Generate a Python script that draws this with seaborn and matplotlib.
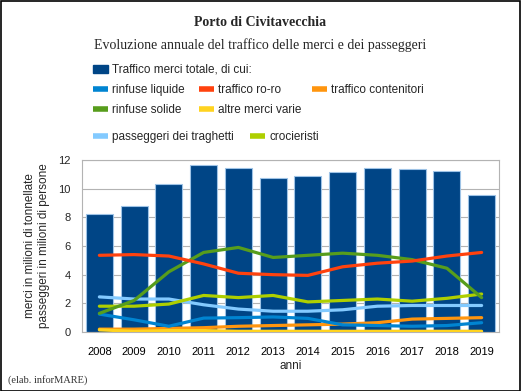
import numpy as np
import pandas as pd
import matplotlib.pyplot as plt
import matplotlib.patches as mpatches
from matplotlib.lines import Line2D
import seaborn as sns

anni = ["2008", "2009", "2010", "2011", "2012", "2013", "2014", "2015", "2016", "2017", "2018", "2019"]

totale = [8.23, 8.8, 10.3, 11.65, 11.45, 10.75, 10.9, 11.15, 11.45, 11.4, 11.2, 9.55]

rinfuse_liquide = [1.25, 0.85, 0.4, 0.97, 1.0, 1.05, 0.95, 0.5, 0.45, 0.4, 0.45, 0.65]
ro_ro = [5.35, 5.4, 5.3, 4.75, 4.1, 4.0, 3.95, 4.55, 4.8, 4.95, 5.3, 5.55]
contenitori = [0.2, 0.2, 0.25, 0.3, 0.4, 0.45, 0.5, 0.55, 0.65, 0.9, 0.95, 1.0]
rinfuse_solide = [1.3, 2.2, 4.2, 5.55, 5.9, 5.2, 5.35, 5.5, 5.35, 5.05, 4.45, 2.4]
altre_merci = [0.15, 0.05, 0.1, 0.1, 0.05, 0.05, 0.05, 0.05, 0.05, 0.05, 0.05, 0.05]
traghetti = [2.45, 2.3, 2.3, 1.9, 1.6, 1.45, 1.45, 1.55, 1.8, 1.85, 1.85, 1.85]
crocieristi = [1.8, 1.8, 1.95, 2.55, 2.4, 2.55, 2.1, 2.2, 2.3, 2.15, 2.35, 2.65]

serie = {
    "rinfuse liquide": rinfuse_liquide,
    "traffico ro-ro": ro_ro,
    "traffico contenitori": contenitori,
    "rinfuse solide": rinfuse_solide,
    "altre merci varie": altre_merci,
    "passeggeri dei traghetti": traghetti,
    "crocieristi": crocieristi,
}
colori = {
    "rinfuse liquide": "#0084d1",
    "traffico ro-ro": "#ff420e",
    "traffico contenitori": "#ff950e",
    "rinfuse solide": "#579d1c",
    "altre merci varie": "#ffd320",
    "passeggeri dei traghetti": "#83caff",
    "crocieristi": "#aecf00",
}
# draw order (bottom to top)
ordine = ["traffico contenitori", "altre merci varie", "rinfuse liquide", "passeggeri dei traghetti",
          "crocieristi", "rinfuse solide", "traffico ro-ro"]

sns.set_style("white")
plt.rcParams["font.family"] = ["Liberation Sans", "DejaVu Sans"]

fig = plt.figure(figsize=(5.21, 3.91), dpi=100)
ax = fig.add_axes([82 / 521, 59 / 391, 417 / 521, 172 / 391])

df_bar = pd.DataFrame({"anno": anni, "totale": totale})
sns.barplot(data=df_bar, x="anno", y="totale", color="#004586", width=0.77,
            edgecolor="#9ec3e6", linewidth=0.8, saturation=1, ax=ax, zorder=2)

df_lin = pd.DataFrame({
    "pos": np.tile(np.arange(len(anni)), len(ordine)),
    "serie": np.repeat(ordine, len(anni)),
    "valore": np.concatenate([serie[s] for s in ordine]),
})
sns.lineplot(data=df_lin, x="pos", y="valore", hue="serie", hue_order=ordine,
             palette=colori, linewidth=2.3, legend=False, ax=ax, zorder=3)

ax.set_xlim(-0.5, len(anni) - 0.5)
ax.set_ylim(0, 12)
ax.set_yticks(range(0, 13, 2))
ax.set_xticks(range(len(anni)))
ax.set_xticklabels(anni)
ax.set_xticks(np.arange(-0.5, len(anni), 1), minor=True)
ax.tick_params(axis="x", which="major", length=0, pad=11, labelsize=8, colors="black")
ax.tick_params(axis="x", which="minor", length=6, width=0.8, color="#b3b3b3", direction="out")
ax.tick_params(axis="y", length=5, width=0.8, color="#b3b3b3", labelsize=8, pad=3)
ax.grid(axis="y", color="#b3b3b3", linewidth=0.8, zorder=0)
ax.set_axisbelow(True)
for sp in ax.spines.values():
    sp.set_color("#b3b3b3")
    sp.set_linewidth(0.8)

ax.set_xlabel("anni", fontsize=8.5, labelpad=2)
ax.set_ylabel("merci in milioni di tonnellate\npasseggeri in milioni di persone", fontsize=8.5, labelpad=6)

fig.text(0.5, 1 - 22 / 391, "Porto di Civitavecchia", ha="center", va="center",
         fontsize=10, fontweight="bold", family="Liberation Serif")
fig.text(0.5, 1 - 45 / 391, "Evoluzione annuale del traffico delle merci e dei passeggeri",
         ha="center", va="center", fontsize=10, family="Liberation Serif")
fig.text(8 / 521, 1 - 380 / 391, "(elab. inforMARE)", ha="left", va="center",
         fontsize=7.5, family="Liberation Serif", color="#333333")

# legend entries placed like the original
voci = [
    ("Traffico merci totale, di cui:", 93, 70),
    ("rinfuse liquide", 93, 90),
    ("traffico ro-ro", 199, 90),
    ("traffico contenitori", 312, 90),
    ("rinfuse solide", 93, 110),
    ("altre merci varie", 199, 110),
    ("passeggeri dei traghetti", 93, 137),
    ("crocieristi", 250, 137),
]
for etichetta, px, py in voci:
    if etichetta.startswith("Traffico"):
        h = mpatches.Patch(facecolor="#004586", edgecolor="#004586")
    else:
        h = Line2D([], [], color=colori[etichetta], linewidth=4, solid_capstyle="butt")
    fig.legend([h], [etichetta], loc="center left", bbox_to_anchor=(px / 521, 1 - py / 391),
               frameon=False, fontsize=8.5, handlelength=1.3, handleheight=0.7,
               handletextpad=0.35, borderpad=0, borderaxespad=0)

fig.patches.append(mpatches.Rectangle((0.001, 0.001), 0.997, 0.997, transform=fig.transFigure,
                                      fill=False, edgecolor="black", linewidth=1.2))

fig.savefig("out.png", dpi=100)
